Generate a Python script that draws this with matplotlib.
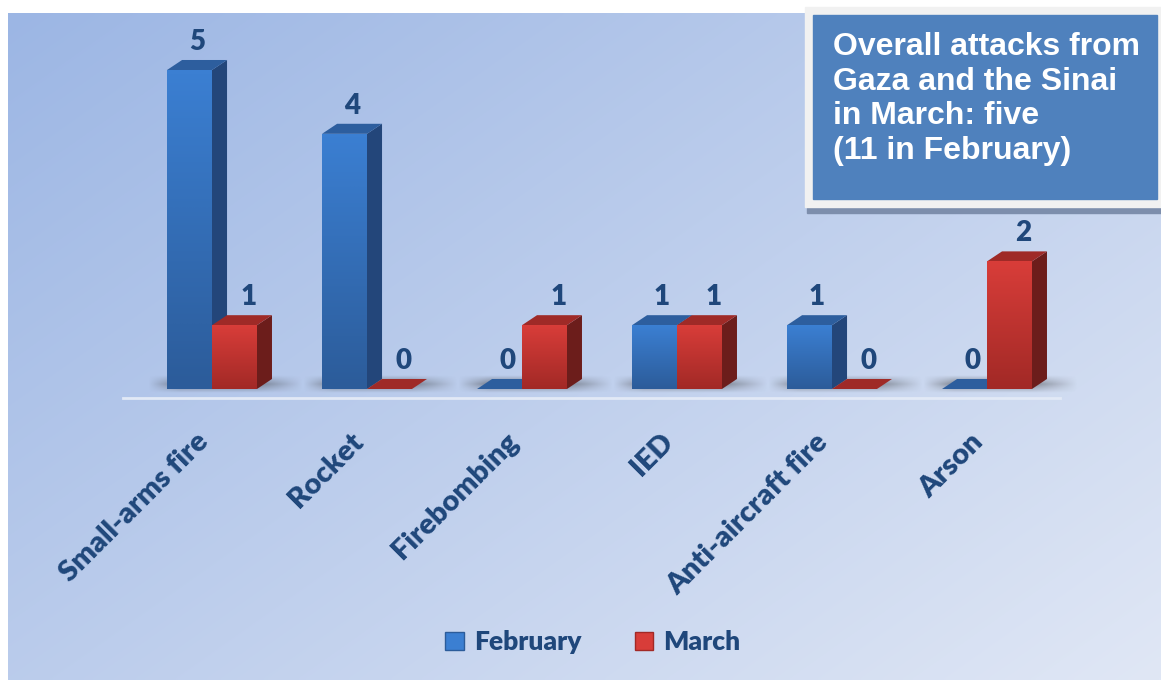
'''
3D-style grouped bar chart: attacks from Gaza and the Sinai, February vs March
'''
import numpy as np
import matplotlib.pyplot as plt
from matplotlib.patches import Polygon, Rectangle, Patch
from matplotlib.colors import LinearSegmentedColormap

categories = ['Small-arms fire', 'Rocket', 'Firebombing', 'IED', 'Anti-aircraft fire', 'Arson']
february = [5, 4, 0, 1, 1, 0]
march = [1, 0, 1, 1, 0, 2]
series_names = ['February', 'March']
title_text = 'Overall attacks from\nGaza and the Sinai\nin March: five\n(11 in February)'

W, H = 1161, 680
label_col = '#1f477b'
label_weight = 'heavy'

# colours for each series: front top, front bottom, side, top
styles = {
    'February': ('#3b7fd2', '#2c5c9a', '#23467a', '#2d5e9e'),
    'March': ('#d83d39', '#a22926', '#6c1d1b', '#9f2a27'),
}

fig = plt.figure(figsize=(W / 100, H / 100), dpi=100)
fig.patch.set_facecolor('white')

# background with a diagonal gradient, in pixel coords
ax_bg = fig.add_axes([0, 0, 1, 1])
ax_bg.set_xlim(0, W)
ax_bg.set_ylim(H, 0)
ax_bg.axis('off')
gx, gy = np.meshgrid(np.linspace(0, 1, 300), np.linspace(0, 1, 200))
t = 0.55 * gx + 0.45 * gy
c0 = np.array([156, 182, 228]) / 255
c1 = np.array([224, 231, 245]) / 255
grad = c0[None, None, :] * (1 - t[..., None]) + c1[None, None, :] * t[..., None]
ax_bg.imshow(grad, extent=[8, W, H, 13], aspect='auto', interpolation='bilinear', zorder=0)

# title box (border, shadow, blue fill)
ax_bg.add_patch(Rectangle((807, 205), W - 807, 8, color='#7d8eac', zorder=1))
ax_bg.add_patch(Rectangle((805, 7), W - 805, 200, color='#f1f1f1', zorder=2))
ax_bg.add_patch(Rectangle((813, 15), 1157 - 813, 184, color='#4f81bd', zorder=3))
ax_bg.text(833, 32, title_text, color='white', fontsize=23, fontweight='bold',
           family='Liberation Sans', ha='left', va='top', linespacing=1.2, zorder=4)

# baseline
ax_bg.plot([123, 1060], [398, 398], color='#e2e9f6', lw=2, zorder=1)

# main axes: y=0 at pixel 389, 1 unit = 63.8 px
base_px = 389
unit = 63.8
ymax = 5.6
ax = fig.add_axes([134.5 / W, (H - base_px) / H, 930 / W, ymax * unit / H])
ax.set_xlim(-0.5, 5.5)
ax.set_ylim(0, ymax)
ax.patch.set_alpha(0)
ax.axis('off')

w = 0.29
dx = 0.097
dy = 0.157
x = np.arange(len(categories))

# soft floor shadows behind each pair of bars
sx = np.linspace(0, 1, 120)
sy = np.linspace(0, 1, 40)
ramp_x = np.clip(np.minimum(sx / 0.2, (1 - sx) / 0.3), 0, 1)
ramp_y = np.clip(np.minimum(sy / 0.5, (1 - sy) / 0.5), 0, 1)
shadow = np.zeros((40, 120, 4))
shadow[..., :3] = 0.22
shadow[..., 3] = 0.5 * ramp_y[:, None] * ramp_x[None, :]
for i in x:
    ax.imshow(shadow, extent=[i - w - 0.12, i + w + dx + 0.2, -0.06, dy + 0.06], aspect='auto',
              interpolation='bilinear', zorder=1, clip_on=False)


def draw_bars(xs, vals, name, z):
    front_top, front_bot, side_c, top_c = styles[name]
    cmap = LinearSegmentedColormap.from_list(name, [front_bot, front_top])
    bars = ax.bar(xs, vals, w, align='edge', color=front_top, lw=0, zorder=z + 1)
    for b, v in zip(bars, vals):
        x0 = b.get_x()
        x1 = x0 + b.get_width()
        if v > 0:
            img = ax.imshow(np.linspace(1, 0, 50).reshape(-1, 1), cmap=cmap, aspect='auto',
                            extent=[x0, x1, 0, v], zorder=z + 1.5, interpolation='bilinear')
            img.set_clip_path(b)
            ax.add_patch(Polygon([(x1, 0), (x1 + dx, dy), (x1 + dx, v + dy), (x1, v)],
                                 closed=True, color=side_c, lw=0, zorder=z, clip_on=False))
        ax.add_patch(Polygon([(x0, v), (x0 + dx, v + dy), (x1 + dx, v + dy), (x1, v)],
                             closed=True, color=top_c, lw=0, zorder=z, clip_on=False))
    ax.set_xlim(-0.5, 5.5)
    ax.set_ylim(0, ymax)


draw_bars(x - w, february, 'February', 2)
draw_bars(x, march, 'March', 4)

# value labels
for i in x:
    ax.text(i - w / 2 + dx / 2, february[i] + 0.44, str(february[i]), ha='center', va='center',
            fontsize=20, fontweight=label_weight, family='Lato', color=label_col, zorder=10, clip_on=False)
    ax.text(i + w / 2 + dx / 2 + 0.04, march[i] + 0.44, str(march[i]), ha='center', va='center',
            fontsize=20, fontweight=label_weight, family='Lato', color=label_col, zorder=10, clip_on=False)

# category labels
for i, c in zip(x, categories):
    ax.text(i - 0.11, -0.62, c, rotation=45, rotation_mode='anchor', ha='right', va='top',
            fontsize=21, fontweight=label_weight, family='Lato', color=label_col, clip_on=False)

handles = [Patch(facecolor=styles[n][0], edgecolor=styles[n][1], label=n) for n in series_names]
leg = fig.legend(handles=handles, loc='center', bbox_to_anchor=(593 / W, 1 - 642 / H), ncol=2,
                 frameon=False, handlelength=0.7, handleheight=0.7, handletextpad=0.4,
                 columnspacing=2.0, prop={'family': 'Lato', 'weight': label_weight, 'size': 19})
for txt in leg.get_texts():
    txt.set_color(label_col)

plt.savefig('out.png', dpi=100)
